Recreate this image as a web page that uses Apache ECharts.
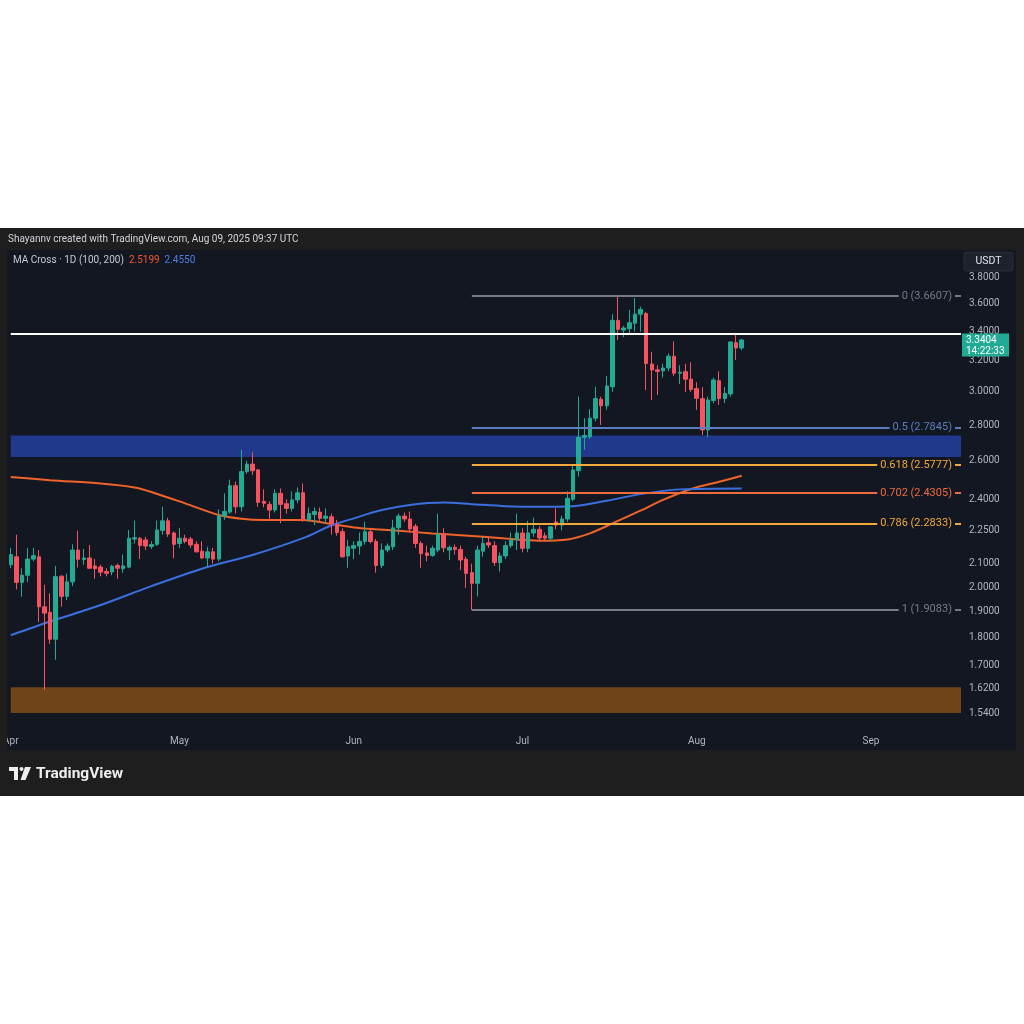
<!DOCTYPE html>
<html>
<head>
<meta charset="utf-8">
<title>XRP / USDT 1D</title>
<script src="https://cdn.jsdelivr.net/npm/echarts@6/dist/echarts.min.js"></script>
<style>
  html, body { margin: 0; padding: 0; background: #ffffff; }
  #chart { width: 1024px; height: 1024px; }
</style>
</head>
<body>
<div id="chart"></div>
<script>
const monthNames = ["Jan", "Feb", "Mar", "Apr", "May", "Jun", "Jul", "Aug", "Sep", "Oct", "Nov", "Dec"];

// daily categories, 1 Apr 2025 .. 17 Sep 2025 (the empty right side of the chart)
const dates = [];
for (let i = 0; i < 170; i++) {
  dates.push(new Date(Date.UTC(2025, 3, 1 + i)).toISOString().slice(0, 10));
}

// daily candles from 1 Apr, [open, high, low, close]
const candles = [
  [2.095, 2.17, 2.08, 2.14], [2.13, 2.23, 1.99, 2.02], [2.02, 2.08, 1.96, 2.05], [2.05, 2.17, 2.02, 2.12],
  [2.12, 2.17, 2.11, 2.135], [2.13, 2.16, 1.86, 1.92], [1.92, 2.01, 1.615, 1.895], [1.898, 1.974, 1.778, 1.795],
  [1.795, 2.09, 1.72, 2.044], [2.046, 2.05, 1.92, 1.962], [1.962, 2.057, 1.947, 2.022], [2.022, 2.186, 2.004, 2.16],
  [2.16, 2.249, 2.083, 2.119], [2.118, 2.165, 2.095, 2.125], [2.125, 2.183, 2.078, 2.08], [2.09, 2.12, 2.035, 2.078],
  [2.085, 2.095, 2.045, 2.063], [2.066, 2.08, 2.045, 2.058], [2.064, 2.095, 2.05, 2.089], [2.092, 2.10, 2.035, 2.08],
  [2.078, 2.14, 2.06, 2.09], [2.085, 2.252, 2.08, 2.214], [2.21, 2.296, 2.19, 2.216], [2.213, 2.22, 2.12, 2.18],
  [2.206, 2.22, 2.16, 2.178], [2.176, 2.20, 2.165, 2.185], [2.186, 2.296, 2.178, 2.252], [2.25, 2.363, 2.23, 2.295],
  [2.295, 2.31, 2.22, 2.233], [2.238, 2.245, 2.123, 2.186], [2.19, 2.26, 2.17, 2.214], [2.214, 2.23, 2.19, 2.199],
  [2.21, 2.22, 2.17, 2.183], [2.186, 2.20, 2.15, 2.152], [2.155, 2.20, 2.12, 2.125], [2.125, 2.175, 2.086, 2.152],
  [2.152, 2.17, 2.10, 2.12], [2.12, 2.35, 2.11, 2.318], [2.318, 2.43, 2.30, 2.34], [2.337, 2.50, 2.33, 2.469],
  [2.469, 2.49, 2.33, 2.363], [2.363, 2.659, 2.34, 2.542], [2.542, 2.60, 2.53, 2.582], [2.582, 2.646, 2.525, 2.547],
  [2.551, 2.556, 2.363, 2.385], [2.39, 2.45, 2.36, 2.38], [2.375, 2.39, 2.30, 2.347], [2.347, 2.45, 2.335, 2.43],
  [2.43, 2.455, 2.283, 2.375], [2.378, 2.40, 2.33, 2.355], [2.355, 2.44, 2.34, 2.397], [2.397, 2.46, 2.38, 2.433],
  [2.433, 2.48, 2.29, 2.299], [2.30, 2.36, 2.29, 2.33], [2.326, 2.36, 2.275, 2.34], [2.337, 2.36, 2.295, 2.307],
  [2.307, 2.355, 2.28, 2.318], [2.315, 2.33, 2.23, 2.283], [2.273, 2.30, 2.225, 2.24], [2.244, 2.26, 2.125, 2.13],
  [2.134, 2.206, 2.082, 2.175], [2.168, 2.20, 2.12, 2.18], [2.178, 2.24, 2.14, 2.199], [2.199, 2.29, 2.185, 2.244],
  [2.244, 2.26, 2.19, 2.199], [2.199, 2.21, 2.061, 2.092], [2.092, 2.19, 2.08, 2.16], [2.16, 2.19, 2.15, 2.178],
  [2.175, 2.30, 2.16, 2.262], [2.262, 2.33, 2.23, 2.318], [2.318, 2.335, 2.29, 2.304], [2.304, 2.34, 2.24, 2.257],
  [2.269, 2.28, 2.17, 2.19], [2.19, 2.20, 2.082, 2.144], [2.147, 2.18, 2.11, 2.136], [2.136, 2.18, 2.13, 2.168],
  [2.16, 2.33, 2.15, 2.233], [2.235, 2.26, 2.15, 2.17], [2.16, 2.18, 2.116, 2.172], [2.172, 2.185, 2.14, 2.163],
  [2.163, 2.18, 2.072, 2.116], [2.119, 2.13, 1.997, 2.058], [2.061, 2.10, 1.907, 2.016], [2.016, 2.18, 1.962, 2.16],
  [2.155, 2.22, 2.13, 2.19], [2.193, 2.22, 2.17, 2.183], [2.18, 2.20, 2.09, 2.105], [2.105, 2.15, 2.066, 2.134],
  [2.134, 2.20, 2.12, 2.18], [2.18, 2.24, 2.17, 2.206], [2.206, 2.33, 2.16, 2.238], [2.238, 2.26, 2.15, 2.168],
  [2.168, 2.295, 2.15, 2.238], [2.238, 2.31, 2.22, 2.255], [2.255, 2.27, 2.20, 2.215], [2.225, 2.24, 2.20, 2.214],
  [2.214, 2.27, 2.20, 2.267], [2.29, 2.355, 2.255, 2.275], [2.275, 2.32, 2.25, 2.304], [2.304, 2.44, 2.29, 2.405],
  [2.40, 2.578, 2.39, 2.551], [2.547, 2.97, 2.516, 2.73], [2.73, 2.84, 2.66, 2.74], [2.733, 2.894, 2.72, 2.84],
  [2.84, 3.032, 2.82, 2.958], [2.954, 2.97, 2.80, 2.914], [2.914, 3.10, 2.89, 3.036], [3.032, 3.525, 3.0, 3.48],
  [3.48, 3.66, 3.341, 3.415], [3.41, 3.44, 3.36, 3.425], [3.42, 3.556, 3.38, 3.463], [3.459, 3.645, 3.40, 3.525],
  [3.525, 3.58, 3.40, 3.56], [3.53, 3.54, 3.011, 3.182], [3.178, 3.26, 2.95, 3.139], [3.14, 3.17, 2.98, 3.13],
  [3.133, 3.18, 3.09, 3.152], [3.152, 3.25, 3.13, 3.23], [3.23, 3.33, 3.10, 3.118], [3.118, 3.17, 3.05, 3.125],
  [3.128, 3.18, 3.0, 3.08], [3.08, 3.19, 3.0, 3.015], [3.02, 3.06, 2.889, 2.96], [2.958, 3.03, 2.743, 2.772],
  [2.772, 2.97, 2.73, 2.95], [2.946, 3.09, 2.93, 3.075], [3.07, 3.13, 2.92, 2.958], [2.958, 3.03, 2.93, 2.99],
  [2.987, 3.33, 2.97, 3.327], [3.322, 3.38, 3.205, 3.286], [3.286, 3.35, 3.27, 3.3404]
];

// moving averages: [day index, price]
const ma100Points = [
  [0, 2.514], [7, 2.497], [16, 2.480], [22, 2.460], [25, 2.437], [31, 2.380], [37, 2.323], [41, 2.305],
  [45, 2.299], [52, 2.299], [57, 2.280], [61, 2.264], [65, 2.255], [69, 2.248], [75, 2.236], [80, 2.228],
  [88, 2.212], [94, 2.202], [99, 2.208], [103, 2.236], [107, 2.283], [112, 2.344], [116, 2.397],
  [121, 2.452], [126, 2.489], [130, 2.5199]
];
const ma200Points = [
  [0, 1.81], [7, 1.862], [16, 1.927], [25, 2.004], [34, 2.078], [43, 2.138], [52, 2.214], [57, 2.273],
  [61, 2.307], [66, 2.347], [71, 2.372], [77, 2.384], [82, 2.376], [88, 2.366], [94, 2.363], [100, 2.366],
  [106, 2.393], [112, 2.426], [119, 2.45], [130, 2.455]
];
const ma100Last = "2.5199";
const ma200Last = "2.4550";

const priceTicks = [3.8, 3.6, 3.4, 3.2, 3.0, 2.8, 2.6, 2.4, 2.25, 2.1, 2.0, 1.9, 1.8, 1.7, 1.62, 1.54];

// fibonacci retracement drawn from the 22 Jun low
const fibStart = 82;
const fibRatios = ["0", "0.5", "0.618", "0.702", "0.786", "1"];
const fibPrices = [3.6607, 2.7845, 2.5777, 2.4305, 2.2833, 1.9083];

const zoneBlue = [2.62, 2.74];
const zoneBrown = [1.54, 1.625];
const resistance = 3.40;
const lastPrice = 3.3404;
const countdown = "14:22:33";

// price range shown by the pane
const paneLow = 1.4867;
const paneHigh = 4.027;

const FONT = "Roboto, Inter, sans-serif";
const PANEL = "#131722";
const FRAME = "#1e1e1e";
const UP = "#22ab94";
const DOWN = "#f7525f";
const fibColors = ["#787b86", "#5b7dbd", "#f2a93b", "#ee6a3f", "#f2a93b", "#787b86"];
const L = Math.log;

const chart = echarts.init(document.getElementById("chart"));

const fibLines = fibPrices.map((p, i) => [
  {
    coord: [dates[fibStart], L(p)],
    lineStyle: { color: fibColors[i], width: 2, type: "solid" },
    label: { formatter: fibRatios[i] + " (" + p.toFixed(4) + ")", color: fibColors[i] }
  },
  { coord: [dates[dates.length - 1], L(p)] }
]);

const option = {
  animation: false,
  grid: { left: 8.5, right: 63, top: 250, height: 480 },
  xAxis: {
    type: "category",
    data: dates,
    boundaryGap: false,
    axisLine: { show: false },
    axisTick: { show: false },
    splitLine: { show: false },
    axisLabel: {
      interval: (i, v) => v.slice(8) === "01",
      formatter: (v) => monthNames[+v.slice(5, 7) - 1],
      color: "#b2b5be",
      fontSize: 10,
      fontFamily: FONT,
      margin: 6
    }
  },
  yAxis: {
    type: "value",
    position: "right",
    min: L(paneLow),
    max: L(paneHigh),
    axisLine: { show: false },
    axisTick: { show: false },
    splitLine: { show: false },
    axisLabel: {
      customValues: priceTicks.map(L),
      formatter: (v) => Math.exp(v).toFixed(4),
      color: "#b2b5be",
      fontSize: 10,
      fontFamily: FONT,
      margin: 8
    }
  },
  series: [
    {
      name: "levels",
      type: "line",
      data: [],
      z: 1,
      markArea: {
        silent: true,
        data: [
          [{ yAxis: L(zoneBlue[1]), itemStyle: { color: "#21398c" } }, { yAxis: L(zoneBlue[0]) }],
          [{ yAxis: L(zoneBrown[1]), itemStyle: { color: "#6e4418" } }, { yAxis: L(zoneBrown[0]) }]
        ]
      },
      markLine: {
        silent: true,
        symbol: ["none", "none"],
        label: {
          show: true,
          position: "insideEndTop",
          distance: [6, 0],
          verticalAlign: "middle",
          backgroundColor: PANEL,
          padding: [1, 3],
          fontSize: 11,
          fontFamily: FONT
        },
        data: [
          { yAxis: L(resistance), lineStyle: { color: "#ffffff", width: 2, type: "solid" }, label: { show: false } },
          ...fibLines
        ]
      }
    },
    {
      name: "MA 100",
      type: "line",
      data: ma100Points.map((p) => [dates[p[0]], L(p[1])]),
      smooth: 0.3,
      symbol: "none",
      lineStyle: { color: "#f2632a", width: 2 },
      z: 2
    },
    {
      name: "MA 200",
      type: "line",
      data: ma200Points.map((p) => [dates[p[0]], L(p[1])]),
      smooth: 0.3,
      symbol: "none",
      lineStyle: { color: "#3b6fdf", width: 2 },
      z: 2
    },
    {
      name: "XRPUSDT",
      type: "candlestick",
      data: candles.map((c) => [L(c[0]), L(c[3]), L(c[2]), L(c[1])]),
      barWidth: 4,
      clip: false,
      itemStyle: { color: UP, color0: DOWN, borderColor: UP, borderColor0: DOWN, borderWidth: 1 },
      z: 3
    }
  ]
};

chart.setOption(option);

// current price tag sits on the price scale at the last close
const tagY = chart.convertToPixel({ gridIndex: 0 }, [dates[candles.length - 1], L(lastPrice)])[1];

chart.setOption({
  graphic: [
    { type: "rect", id: "frame", silent: true, z: -20, shape: { x: 0, y: 228, width: 1024, height: 568 }, style: { fill: FRAME } },
    { type: "rect", id: "pane", silent: true, z: -19, shape: { x: 7, y: 250, width: 1009, height: 500 }, style: { fill: PANEL } },
    // left border hides the first half of the April label, as in the screenshot
    { type: "rect", id: "leftEdge", silent: true, z: 40, shape: { x: 0, y: 732, width: 7, height: 18 }, style: { fill: FRAME } },
    {
      type: "text", id: "credit", x: 8, y: 239, z: 50,
      style: { text: "Shayannv created with TradingView.com, Aug 09, 2025 09:37 UTC", fill: "#d1d4dc", fontSize: 10, fontFamily: FONT, verticalAlign: "middle" }
    },
    {
      type: "text", id: "legend", x: 13, y: 260, z: 50,
      style: {
        text: "{a|MA Cross · 1D (100, 200)}  {o|" + ma100Last + "}  {b|" + ma200Last + "}",
        rich: {
          a: { fill: "#c8cad0", fontSize: 10, fontFamily: FONT },
          o: { fill: "#f0582c", fontSize: 10, fontFamily: FONT },
          b: { fill: "#4a7fe8", fontSize: 10, fontFamily: FONT }
        },
        fontSize: 10,
        fontFamily: FONT,
        verticalAlign: "middle"
      }
    },
    { type: "rect", id: "unitBox", z: 50, shape: { x: 964, y: 252, width: 49, height: 19, r: 3 }, style: { fill: "#1e222d", stroke: "#2a2e39" } },
    {
      type: "text", id: "unit", x: 988.5, y: 261.5, z: 51,
      style: { text: "USDT", fill: "#e0e3eb", fontSize: 10.5, fontFamily: FONT, align: "center", verticalAlign: "middle" }
    },
    { type: "rect", id: "tag", z: 60, shape: { x: 962, y: tagY - 6.5, width: 47, height: 23 }, style: { fill: UP } },
    {
      type: "text", id: "tagPrice", x: 966, y: tagY, z: 61,
      style: { text: lastPrice.toFixed(4), fill: "#ffffff", fontSize: 10, fontFamily: FONT, verticalAlign: "middle" }
    },
    {
      type: "text", id: "tagTime", x: 966, y: tagY + 11, z: 61,
      style: { text: countdown, fill: "#ffffff", fontSize: 10, fontFamily: FONT, verticalAlign: "middle" }
    },
    // TradingView wordmark
    { type: "polygon", id: "logoT", z: 50, shape: { points: [[9, 767], [18, 767], [18, 780], [14, 780], [14, 771], [9, 771]] }, style: { fill: "#eeeeee" } },
    { type: "circle", id: "logoDot", z: 50, shape: { cx: 21.5, cy: 769, r: 2 }, style: { fill: "#eeeeee" } },
    { type: "polygon", id: "logoV", z: 50, shape: { points: [[25, 767], [31, 767], [25.5, 780], [20.5, 780]] }, style: { fill: "#eeeeee" } },
    {
      type: "text", id: "brand", x: 36, y: 774, z: 50,
      style: { text: "TradingView", fill: "#eeeeee", fontSize: 15.5, fontWeight: "bold", fontFamily: FONT, verticalAlign: "middle" }
    }
  ]
});
</script>
</body>
</html>
